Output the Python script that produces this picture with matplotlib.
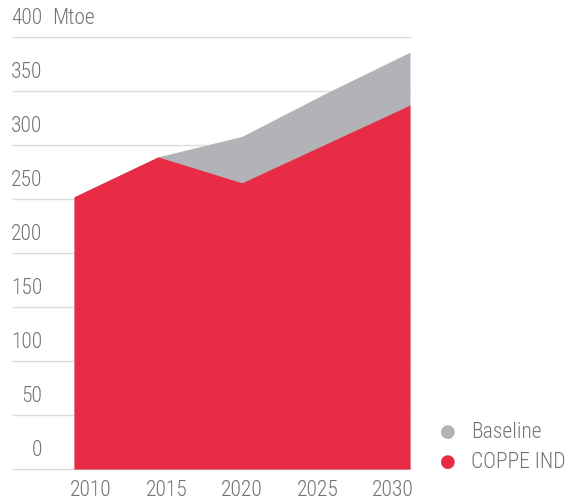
import numpy as np
import matplotlib
matplotlib.use("Agg")
import matplotlib.pyplot as plt
import matplotlib.transforms as mtransforms

# data (Mtoe)
years = [2010, 2015, 2020, 2025, 2030]
baseline = [252, 289, 308, 348, 386]
coppe_indc = [252, 289, 265, 301, 337]
y_ticks = [0, 50, 100, 150, 200, 250, 300, 350, 400]
series_names = ["Baseline", "COPPE INDC"]

grey = "#b2b3b6"
red = "#e82c46"
text_col = "#737373"
grid_col = "#dcdcdc"

plt.rcParams["font.family"] = ["Roboto Condensed", "DejaVu Sans"]
plt.rcParams["font.weight"] = 300

fig = plt.figure(figsize=(5.66, 5.04), dpi=100)
ax = fig.add_axes([74 / 566, 35 / 504, 336 / 566, 432 / 504])

ax.fill_between(years, baseline, color=grey, lw=0, zorder=2)
ax.fill_between(years, coppe_indc, color=red, lw=0, zorder=3)

ax.set_xlim(years[0], years[-1])
ax.set_ylim(0, 400)
for s in ax.spines.values():
    s.set_visible(False)
ax.set_yticks([])
ax.tick_params(axis="x", length=0, pad=8, labelsize=15.5, labelcolor=text_col)
ax.set_xticks(np.linspace(years[0] + 1, years[-1] - 1, len(years)))
ax.set_xticklabels([str(y) for y in years])

# gridlines run past the left edge of the plot, labels sit above them
trans = mtransforms.blended_transform_factory(ax.transAxes, ax.transData)
lab_trans = mtransforms.offset_copy(trans, fig=fig, x=0, y=13, units="points")
for v in y_ticks:
    ax.plot([-0.182, 1.0], [v, v], transform=trans, color=grid_col, lw=1,
            clip_on=False, zorder=1)
    ax.text(-0.095, v, str(v), transform=lab_trans, ha="right", va="center",
            fontsize=15.5, color=text_col)
ax.text(-0.065, 400, "Mtoe", transform=lab_trans, ha="left", va="center",
        fontsize=15.5, color=text_col)

# legend
for i, (name, col) in enumerate(zip(series_names, [grey, red])):
    yy = 72 - i * 30
    fig.text(448 / 566, yy / 504, "\u25cf", color=col, fontsize=13,
             ha="center", va="center", family="DejaVu Sans")
    fig.text(471 / 566, yy / 504, name, color=text_col, fontsize=15.5,
             ha="left", va="center")

fig.savefig("out.png", dpi=100)
